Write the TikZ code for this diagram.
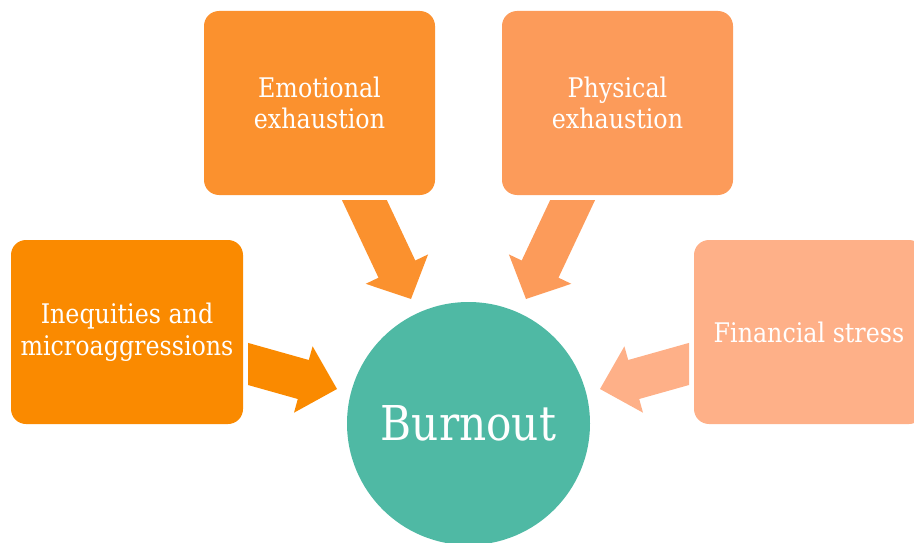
\documentclass[tikz,border=0pt]{standalone}
\usepackage{fontspec}
\setmainfont[FakeStretch=0.88]{DejaVu Serif}
\definecolor{cEmo}{RGB}{251,145,46}
\definecolor{cPhys}{RGB}{252,155,90}
\definecolor{cIneq}{RGB}{250,138,0}
\definecolor{cFin}{RGB}{254,176,136}
\definecolor{cBurn}{RGB}{79,185,164}
\begin{document}
\begin{tikzpicture}[x=1pt,y=-1pt,
  box/.style={rectangle, rounded corners=15pt, minimum width=231pt, minimum height=184pt,
    inner sep=0pt, text=white, align=center,
    font=\fontsize{27}{31.7}\selectfont},
  hub/.style={circle, minimum size=243pt, inner sep=0pt, fill=cBurn, text=white,
    font=\fontsize{48}{54}\selectfont}]
\useasboundingbox (0,0) rectangle (914,543);
\clip (0,0) rectangle (914,543);
% boxes
\node[box, fill=cEmo] (emo) at (319.5,103) {Emotional\\exhaustion};
\node[box, fill=cPhys] (phys) at (617.5,103) {Physical\\exhaustion};
\node[box, fill=cIneq, minimum width=232pt] (ineq) at (127,332) {Inequities and\\microaggressions};
\node[box, fill=cFin, minimum width=230pt] (fin) at (809,332) {Financial stress};
\node[hub] (burn) at (468.5,423.5) {Burnout};
% block arrows
\fill[cEmo] (341.9,200) -- (378.5,277.7) -- (365.7,283.8) -- (411,299) -- (428.1,254.4) -- (415.3,260.5) -- (386.8,200) -- cycle;
\fill[cPhys] (595.1,200) -- (558.5,277.7) -- (571.3,283.8) -- (526,299) -- (508.9,254.4) -- (521.7,260.5) -- (550.2,200) -- cycle;
\fill[cIneq] (248,342.9) -- (308.8,360) -- (312.6,346.3) -- (337,389) -- (294,412.7) -- (297.8,399) -- (248,385) -- cycle;
\fill[cFin] (689,342.9) -- (628.2,360) -- (624.4,346.3) -- (600,389) -- (643,412.7) -- (639.2,399) -- (689,385) -- cycle;
\end{tikzpicture}
\end{document}
